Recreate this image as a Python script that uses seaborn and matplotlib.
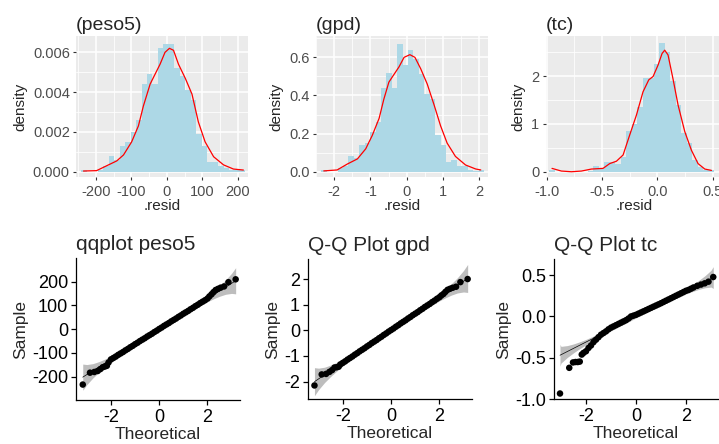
import numpy as np
import pandas as pd
import matplotlib
matplotlib.use("Agg")
import matplotlib.pyplot as plt
import seaborn as sns
from matplotlib.ticker import MultipleLocator, FormatStrFormatter

# ---- histogram bins (30 bins each), heights ----
peso5_bin_start, peso5_bin_width = -241.0, 15.43
peso5_heights = [0.0001, 0, 0, 0.0001, 0.0003, 0.0008, 0.0006, 0.0013, 0.0015, 0.0020,
                 0.0026, 0.0044, 0.0049, 0.0044, 0.0062, 0.0064, 0.0064, 0.0052, 0.0048, 0.0041,
                 0.0036, 0.0019, 0.0013, 0.0005, 0.0005, 0.0003, 0.0002, 0.0001, 0.0001, 0.0001]
gpd_bin_start, gpd_bin_width = -2.36, 0.15
gpd_heights = [0.01, 0, 0, 0.02, 0.03, 0.08, 0.07, 0.14, 0.15, 0.21,
               0.26, 0.44, 0.52, 0.44, 0.67, 0.56, 0.64, 0.59, 0.51, 0.41,
               0.38, 0.19, 0.14, 0.05, 0.06, 0.03, 0.03, 0.01, 0.005, 0.01]
tc_bin_start, tc_bin_width = -0.977, 0.0497
tc_heights = [0.03, 0, 0, 0, 0, 0, 0, 0.01, 0.13, 0.06,
              0.2, 0.2, 0.17, 0.30, 0.85, 1.0, 1.35, 1.95, 1.95, 2.25,
              2.7, 2.5, 1.9, 1.4, 0.8, 0.6, 0.25, 0.1, 0.04, 0.03]

# ---- density curves ----
peso5_dx = [-235, -198, -169, -141, -122, -99, -80, -66, -47, -33, -19, -5, 7.5, 19, 33, 52, 71, 89, 108, 132, 160, 188, 216]
peso5_dy = [0.00003, 0.00005, 0.0003, 0.00054, 0.00084, 0.0015, 0.0023, 0.0033, 0.0044, 0.0049, 0.0054, 0.0060,
            0.0062, 0.0061, 0.0054, 0.0047, 0.0039, 0.0025, 0.0015, 0.00075, 0.00034, 0.00013, 0.00008]
gpd_dx = [-2.29, -1.92, -1.64, -1.36, -1.13, -0.95, -0.76, -0.63, -0.49, -0.35, -0.21, -0.07, 0.09, 0.23,
          0.39, 0.57, 0.76, 0.94, 1.12, 1.35, 1.63, 1.91, 2.05]
gpd_dy = [0.004, 0.009, 0.04, 0.067, 0.12, 0.19, 0.28, 0.38, 0.47, 0.51, 0.55, 0.60, 0.614, 0.60,
          0.54, 0.46, 0.35, 0.24, 0.15, 0.08, 0.035, 0.014, 0.009]
tc_dx = [-0.952, -0.867, -0.777, -0.687, -0.596, -0.491, -0.431, -0.37, -0.31, -0.25, -0.19, -0.13, -0.078,
         -0.039, 0.006, 0.042, 0.066, 0.096, 0.14, 0.187, 0.247, 0.307, 0.367, 0.428, 0.488]
tc_dy = [0.07, 0.014, 0.0, 0.014, 0.056, 0.07, 0.17, 0.22, 0.35, 0.77, 1.18, 1.67, 1.92,
         1.99, 2.23, 2.47, 2.54, 2.44, 1.95, 1.39, 0.84, 0.45, 0.17, 0.056, 0.028]

# ---- Q-Q points ----
mid_theo = [round(-2.0 + 0.1 * i, 1) for i in range(41)]
lo_theo = [-3.17, -2.87, -2.69, -2.55, -2.44, -2.34, -2.25, -2.17, -2.1]
hi_theo = [2.08, 2.17, 2.25, 2.34, 2.44, 2.55, 2.69, 2.87, 3.17]
qq_theo = lo_theo + mid_theo + hi_theo

peso5_sample = ([-233, -183, -180, -176, -168, -160, -157, -154, -140]
                + [-127, -121, -115, -108, -102, -96, -89, -83, -76, -70, -63, -57, -50, -44, -38, -31, -25,
                   -19, -12, -6, 1, 7, 14, 20, 26, 33, 39, 45, 52, 58, 65, 71, 77, 84, 90, 97, 103, 110, 116, 122, 129]
                + [138, 147, 156, 165, 170, 175, 180, 198, 210])
gpd_sample = ([-2.15, -1.72, -1.70, -1.62, -1.55, -1.45, -1.44, -1.42, -1.33]
              + [-1.27, -1.21, -1.14, -1.08, -1.02, -0.95, -0.89, -0.82, -0.76, -0.70, -0.63, -0.57, -0.50,
                 -0.44, -0.38, -0.31, -0.25, -0.18, -0.12, -0.05, 0.01, 0.07, 0.14, 0.20, 0.27, 0.33, 0.39,
                 0.46, 0.52, 0.59, 0.65, 0.71, 0.78, 0.84, 0.91, 0.97, 1.03, 1.10, 1.16, 1.23, 1.29]
              + [1.36, 1.42, 1.50, 1.58, 1.62, 1.66, 1.70, 1.88, 2.00])
tc_theo = ([-3.04, -2.67, -2.52, -2.42, -2.33, -2.25, -2.17, -2.1] + mid_theo
           + [2.1, 2.2, 2.3, 2.45, 2.6, 2.75, 2.9, 3.09])
tc_sample = ([-0.93, -0.62, -0.555, -0.55, -0.55, -0.545, -0.46, -0.44]
             + [-0.42, -0.38, -0.35, -0.31, -0.28, -0.25, -0.22, -0.20, -0.18, -0.155, -0.135, -0.12, -0.105,
                -0.09, -0.075, -0.06, -0.045, -0.025, 0.0, 0.01, 0.02, 0.034, 0.048, 0.062, 0.076, 0.09,
                0.104, 0.118, 0.132, 0.146, 0.16, 0.175, 0.19, 0.205, 0.22, 0.235, 0.25, 0.265, 0.28, 0.295, 0.31]
             + [0.32, 0.335, 0.35, 0.37, 0.385, 0.40, 0.42, 0.476])

# reference line (intercept, slope) and pointwise band half-width factor
peso5_line = (1.0, 64.0)
gpd_line = (0.01, 0.635)
tc_line = (-0.003, 0.153)
band_theo = [-3.17, -3.0, -2.75, -2.5, -2.25, -2.0, -1.5, -1.0, 0.0, 1.0, 1.5, 2.0, 2.25, 2.5, 2.75, 3.0, 3.17]
band_factor = [0.86, 0.66, 0.47, 0.35, 0.27, 0.21, 0.15, 0.116, 0.096, 0.116, 0.15, 0.21, 0.27, 0.35, 0.47, 0.66, 0.86]

sns.set_theme(style="white")
plt.rcParams["font.family"] = ["Liberation Sans", "DejaVu Sans"]
plt.rcParams["axes.unicode_minus"] = False

W, H = 719, 444
fig = plt.figure(figsize=(W / 100, H / 100), dpi=100)


def ax_at(l, t, r, b):
    return fig.add_axes([l / W, 1 - b / H, (r - l) / W, (b - t) / H])


def hist_panel(ax, start, width, heights, dx, dy, title, xlim, ylim, xmaj, ymaj, xfmt, yfmt):
    n = len(heights)
    centers = [start + width * (i + 0.5) for i in range(n)]
    df = pd.DataFrame({"x": centers, "h": heights})
    sns.histplot(data=df, x="x", weights="h", binwidth=width, binrange=(start, start + width * n),
                 stat="count", color="#ADD8E6", alpha=1, edgecolor="none", linewidth=0, ax=ax)
    sns.lineplot(x=dx, y=dy, color="red", linewidth=0.9, sort=False, estimator=None, ax=ax)
    ax.set_xlim(*xlim)
    ax.set_ylim(*ylim)
    ax.set_facecolor("#EBEBEB")
    ax.xaxis.set_major_locator(MultipleLocator(xmaj))
    ax.xaxis.set_minor_locator(MultipleLocator(xmaj / 2))
    ax.yaxis.set_major_locator(MultipleLocator(ymaj))
    ax.yaxis.set_minor_locator(MultipleLocator(ymaj / 2))
    ax.xaxis.set_major_formatter(FormatStrFormatter(xfmt))
    ax.yaxis.set_major_formatter(FormatStrFormatter(yfmt))
    ax.grid(which="major", color="white", linewidth=1.1)
    ax.grid(which="minor", color="white", linewidth=0.55)
    ax.set_axisbelow(True)
    for s in ax.spines.values():
        s.set_visible(False)
    ax.tick_params(which="major", length=2.5, width=0.8, color="#333333", labelcolor="#4D4D4D",
                   labelsize=10.5, pad=2, bottom=True, left=True)
    ax.tick_params(axis="x", which="major", pad=3)
    ax.tick_params(which="minor", length=0)
    ax.set_xlabel(".resid", fontsize=11, labelpad=0)
    ax.set_ylabel("density", fontsize=11, labelpad=4)
    ax.set_title(title, loc="left", fontsize=14, pad=4)


def qq_panel(ax, theo, sample, line, title, xlim, ylim, ymaj, yfmt, band_lim):
    a, b = line
    bt = np.clip(band_theo, band_lim[0], band_lim[1])
    fit = a + b * bt
    hw = b * np.array(band_factor)
    ax.fill_between(bt, fit - hw, fit + hw, color="#BDBDBD", linewidth=0, zorder=1)
    sns.lineplot(x=bt, y=fit, color="black", linewidth=0.5, estimator=None, ax=ax, zorder=2)
    sns.scatterplot(x=theo, y=sample, color="black", s=22, edgecolor="none", ax=ax, zorder=3)
    ax.set_xlim(*xlim)
    ax.set_ylim(*ylim)
    ax.xaxis.set_major_locator(MultipleLocator(2))
    ax.yaxis.set_major_locator(MultipleLocator(ymaj))
    ax.yaxis.set_major_formatter(FormatStrFormatter(yfmt))
    ax.spines["top"].set_visible(False)
    ax.spines["right"].set_visible(False)
    for s in ("left", "bottom"):
        ax.spines[s].set_color("black")
        ax.spines[s].set_linewidth(0.9)
    ax.tick_params(length=3.5, width=0.9, color="black", labelcolor="black", labelsize=13, pad=2,
                   bottom=True, left=True)
    ax.tick_params(axis="x", pad=3)
    ax.set_xlabel("Theoretical", fontsize=12.5, labelpad=0.5)
    ax.set_ylabel("Sample", fontsize=12.5, labelpad=3)
    ax.set_title(title, loc="left", fontsize=15, pad=6)


ax1 = ax_at(76, 36, 248, 177)
hist_panel(ax1, peso5_bin_start, peso5_bin_width, peso5_heights, peso5_dx, peso5_dy, "(peso5)",
           (-256, 229), (-0.00027, 0.00682), 100, 0.002, "%d", "%.3f")
ax2 = ax_at(316, 36, 488, 177)
hist_panel(ax2, gpd_bin_start, gpd_bin_width, gpd_heights, gpd_dx, gpd_dy, "(gpd)",
           (-2.505, 2.25), (-0.028, 0.712), 1, 0.2, "%d", "%.1f")
ax3 = ax_at(545.7, 36, 722.4, 177)
hist_panel(ax3, tc_bin_start, tc_bin_width, tc_heights, tc_dx, tc_dy, "(tc)",
           (-1.009, 0.587), (-0.11, 2.836), 0.5, 1, "%.1f", "%d")

ax4 = ax_at(76, 258.3, 240, 400)
qq_panel(ax4, qq_theo, peso5_sample, peso5_line, "qqplot peso5", (-3.45, 3.35), (-298, 298.5), 100, "%d",
         (-3.17, 3.17))
ax5 = ax_at(307.7, 259.3, 472, 399.3)
qq_panel(ax5, qq_theo, gpd_sample, gpd_line, "Q-Q Plot gpd", (-3.45, 3.35), (-2.69, 2.77), 1, "%d",
         (-3.17, 3.17))
ax6 = ax_at(554, 259.3, 718, 399.3)
qq_panel(ax6, tc_theo, tc_sample, tc_line, "Q-Q Plot tc", (-3.28, 3.28), (-1.0, 0.69), 0.5, "%.1f",
         (-3.04, 3.09))

fig.savefig("out.png", dpi=100)
